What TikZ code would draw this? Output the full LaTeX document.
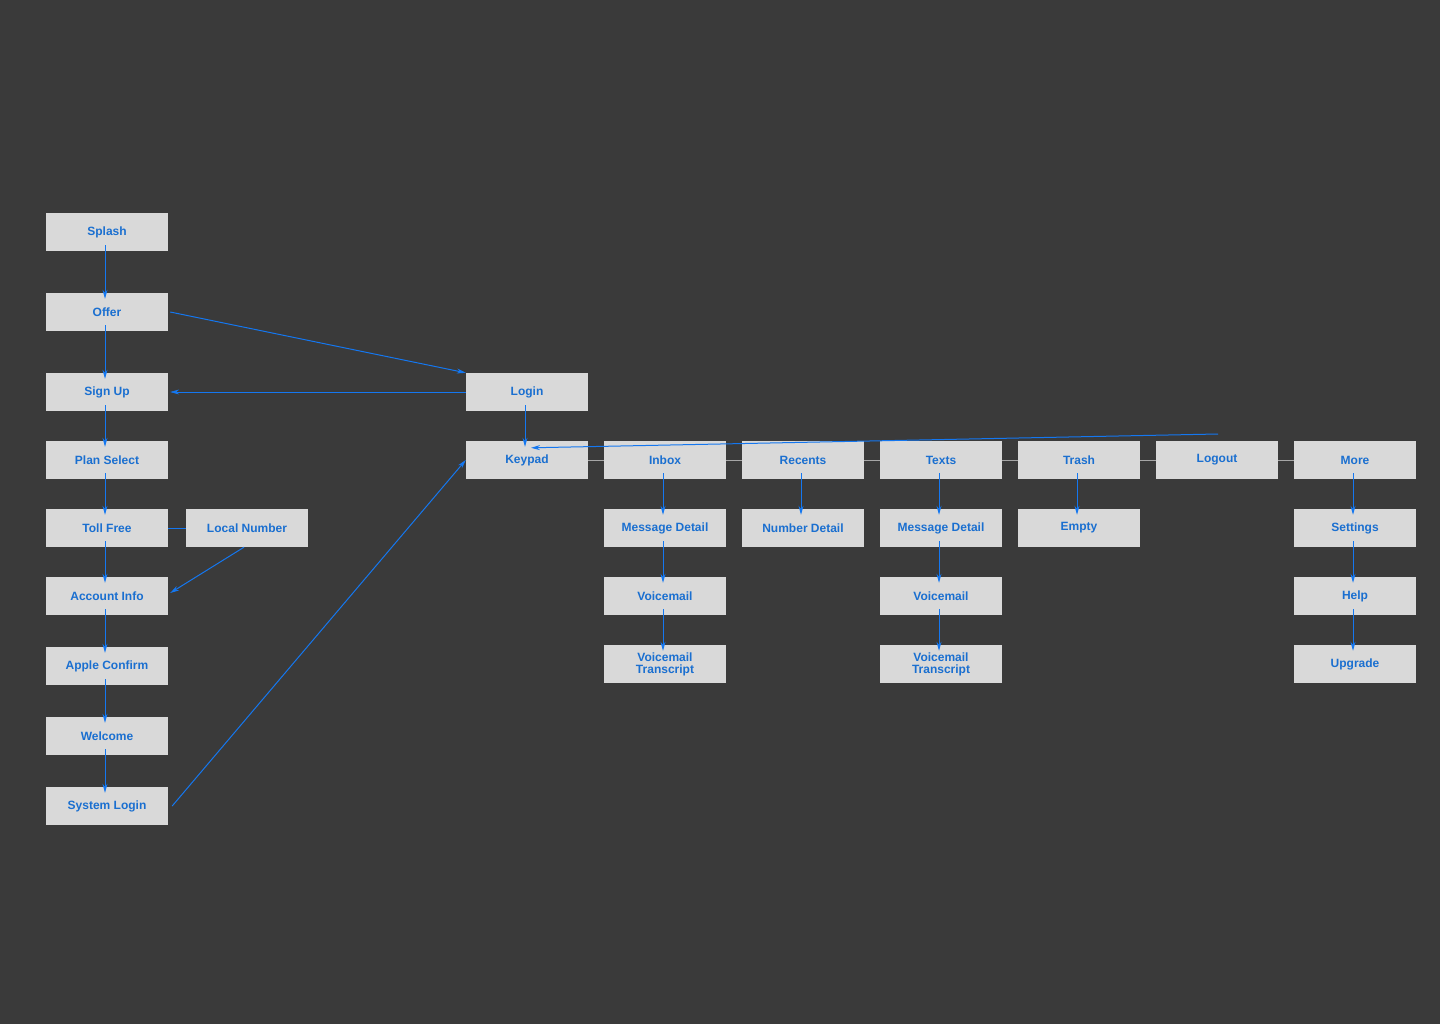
\documentclass[tikz,border=0pt]{standalone}
\usepackage{fontspec}
\setmainfont{Liberation Sans}
\usetikzlibrary{arrows.meta}
\definecolor{bg}{HTML}{3A3A3A}
\definecolor{boxc}{HTML}{D9D9D9}
\definecolor{txt}{HTML}{1A6FD0}
\definecolor{arr}{HTML}{1477F0}
\begin{document}
\begin{tikzpicture}[x=1pt,y=-1pt,
 scr/.style={fill=boxc,minimum width=122pt,minimum height=38pt,inner sep=0pt,text=txt,font=\fontsize{12}{12}\selectfont\bfseries,align=center},
 ar/.style={draw=arr,line width=1pt,-{Stealth[length=9pt,width=5pt]}},
 thin/.style={draw=arr,line width=0.6pt,-{Stealth[length=9pt,width=5pt]}},
 gl/.style={draw=gray!70,line width=0.5pt}]
\fill[bg] (0,0) rectangle (1440,1024);
\useasboundingbox (0,0) rectangle (1440,1024);
\node[scr] (splash) at (107,232) {Splash};
\node[scr] (offer) at (107,312) {Offer};
\node[scr] (signup) at (107,392) {Sign Up};
\node[scr] (login) at (527,392) {Login};
\node[scr] (plan) at (107,460) {Plan Select};
\node[scr] (toll) at (107,528) {Toll Free};
\node[scr] (local) at (247,528) {Local Number};
\node[scr] (acct) at (107,596) {Account Info};
\node[scr] (apple) at (107,666) {Apple Confirm};
\node[scr] (welcome) at (107,736) {Welcome};
\node[scr] (syslogin) at (107,806) {System Login};
\node[scr] (keypad) at (527,460) {Keypad};
\node[scr] (inbox) at (665,460) {Inbox};
\node[scr] (recents) at (803,460) {Recents};
\node[scr] (texts) at (941,460) {Texts};
\node[scr] (trash) at (1079,460) {Trash};
\node[scr] (logout) at (1217,460) {Logout};
\node[scr] (more) at (1355,460) {More};
\node[scr] (md1) at (665,528) {Message Detail};
\node[scr] (nd) at (803,528) {Number Detail};
\node[scr] (md2) at (941,528) {Message Detail};
\node[scr] (empty) at (1079,528) {Empty};
\node[scr] (settings) at (1355,528) {Settings};
\node[scr] (vm1) at (665,596) {Voicemail};
\node[scr] (vm2) at (941,596) {Voicemail};
\node[scr] (help) at (1355,596) {Help};
\node[scr] (vt1) at (665,664) {Voicemail\\Transcript};
\node[scr] (vt2) at (941,664) {Voicemail\\Transcript};
\node[scr] (upgrade) at (1355,664) {Upgrade};
% tab row connectors
\foreach \a/\b in {keypad/inbox,inbox/recents,recents/texts,texts/trash,trash/logout,logout/more}
  \draw[gl] (\a.east) -- (\b.west);
\draw[draw=arr,line width=1pt] (toll.east) -- (local.west);
% vertical arrows
\foreach \a/\b in {splash/offer,offer/signup,signup/plan,plan/toll,toll/acct,acct/apple,apple/welcome,welcome/syslogin,
  inbox/md1,md1/vm1,vm1/vt1,recents/nd,texts/md2,md2/vm2,vm2/vt2,trash/empty,more/settings,settings/help,help/upgrade,login/keypad}
  \draw[ar] ([xshift=-2pt,yshift=6pt]\a.south) -- ([xshift=-2pt,yshift=-6pt]\b.north);
\draw[ar] ([xshift=2pt]offer.east) -- (login.north west);
\draw[thin] (login.west) -- ([xshift=2pt]signup.east);
\draw[ar] ([xshift=-3pt]local.south) -- ([xshift=2pt,yshift=3pt]acct.east);
\draw[ar] ([xshift=4pt]syslogin.east) -- (keypad.west);
\coordinate (lo) at (1218,434);
\draw[ar] (lo) -- ([xshift=4pt,yshift=-7pt]keypad.north);
\end{tikzpicture}
\end{document}
